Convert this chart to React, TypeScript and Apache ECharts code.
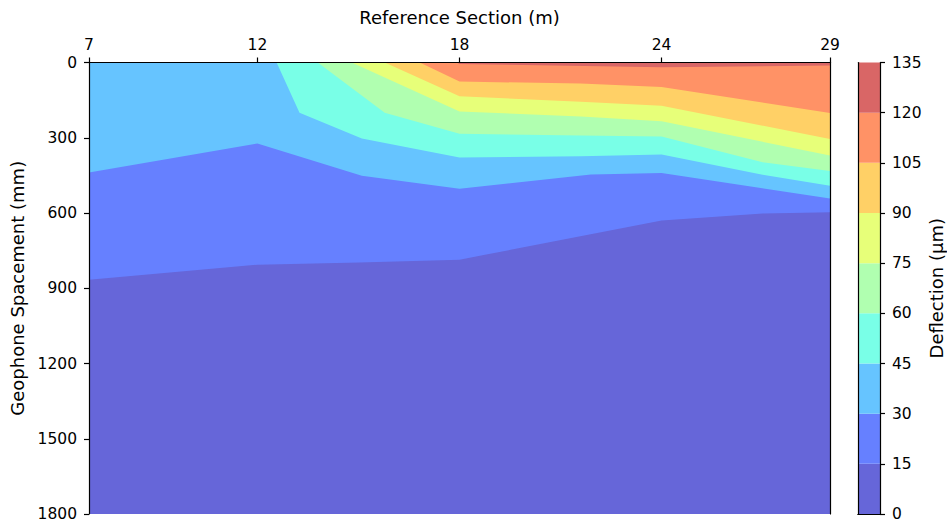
import React, { useEffect, useRef } from "react";
import * as echarts from "echarts";

// Axis ticks
const xTicks = [7, 12, 18, 24, 29];
const levels = [0, 15, 30, 45, 60, 75, 90, 105, 120, 135];
const bandColors = [
  "#6666d9",
  "#6680ff",
  "#66c4ff",
  "#79ffe7",
  "#b0ffb0",
  "#e7ff79",
  "#ffd066",
  "#ff9266",
  "#d96666",
];

// Contour boundaries: [section (m), geophone spacement (mm)] where deflection equals level
const contour0: number[][] = [[7, 1800], [29, 1800]];
const contour15: number[][] = [[7, 866], [12, 806], [15, 797], [18, 786], [24, 630], [27, 602], [29, 597]];
const contour30: number[][] = [[7, 439], [12, 323], [15.1, 451], [18, 503], [21.9, 447], [24, 441], [29, 542]];
const contour45: number[][] = [[12.57, 0], [13.25, 200], [15.1, 303], [18, 379], [21.6, 374], [24, 367], [27, 448], [29, 491]];
const contour60: number[][] = [[13.79, 0], [15.78, 200], [18, 284], [21.6, 291], [24, 295], [27, 398], [29, 433]];
const contour75: number[][] = [[14.8, 0], [18, 195], [21.6, 215], [24, 234], [29, 371]];
const contour90: number[][] = [[15.78, 0], [18, 135], [21.6, 156], [24, 172], [29, 305]];
const contour105: number[][] = [[16.82, 0], [18, 76], [21.6, 84], [24, 98], [29, 201]];
const contour120: number[][] = [[17.92, 0], [18, 6], [24, 19], [29, 12]];

const contours = [contour0, contour15, contour30, contour45, contour60, contour75, contour90, contour105, contour120];

const FONT = "DejaVu Sans";

export default function App() {
  const ref = useRef<HTMLDivElement>(null);
  useEffect(() => {
    if (!ref.current) return;
    const chart = echarts.init(ref.current, undefined, { renderer: "svg" });
    const axisLine = { show: true, lineStyle: { color: "#000", width: 1.2 } };
    const tickStyle = { show: true, length: 5, lineStyle: { color: "#000", width: 1.2 } };
    const plain = (v: number) => String(v);
    const labelStyle = { color: "#000", fontFamily: FONT, fontSize: 15.5, formatter: plain };
    const nameStyle = { color: "#000", fontFamily: FONT, fontSize: 18 };

    const contourSeries = contours.map((c, i) => ({
      type: "line",
      xAxisIndex: 0,
      yAxisIndex: 0,
      data: c,
      showSymbol: false,
      symbol: "none",
      silent: true,
      lineStyle: { width: 0, opacity: 0 },
      areaStyle: { origin: "start", color: bandColors[i], opacity: 1 },
      z: 2 + i * 0.01,
    }));

    const barSeries = bandColors.map((col, i) => ({
      type: "bar",
      xAxisIndex: 2,
      yAxisIndex: 2,
      stack: "cb",
      barWidth: "100%",
      silent: true,
      data: [levels[i + 1] - levels[i]],
      itemStyle: { color: col },
    }));

    chart.setOption({
      animation: false,
      backgroundColor: "#fff",
      grid: [
        { left: 89, right: 117, top: 62.5, bottom: 13, containLabel: false, outerBoundsMode: "none" },
        { left: 858, width: 22, top: 62.5, bottom: 13, containLabel: false, outerBoundsMode: "none" },
      ],
      xAxis: [
        {
          type: "value",
          gridIndex: 0,
          position: "top",
          min: 7,
          max: 29,
          z: 10,
          name: "Reference Section (m)",
          nameLocation: "middle",
          nameGap: 36,
          nameTextStyle: nameStyle,
          axisLine,
          axisTick: { ...tickStyle, customValues: xTicks },
          axisLabel: { ...labelStyle, margin: 10, customValues: xTicks },
          splitLine: { show: false },
        },
        {
          type: "value",
          gridIndex: 0,
          position: "bottom",
          min: 7,
          max: 29,
          z: 10,
          axisLine,
          axisTick: { show: false },
          axisLabel: { show: false },
          splitLine: { show: false },
        },
        {
          type: "category",
          gridIndex: 1,
          position: "bottom",
          data: [""],
          z: 10,
          axisLine,
          axisTick: { show: false },
          axisLabel: { show: false },
          splitLine: { show: false },
        },
        {
          type: "category",
          gridIndex: 1,
          position: "top",
          data: [""],
          z: 10,
          axisLine,
          axisTick: { show: false },
          axisLabel: { show: false },
          splitLine: { show: false },
        },
      ],
      yAxis: [
        {
          type: "value",
          gridIndex: 0,
          inverse: true,
          min: 0,
          max: 1800,
          interval: 300,
          z: 10,
          name: "Geophone Spacement (mm)",
          nameLocation: "middle",
          nameGap: 62,
          nameRotate: 90,
          nameTextStyle: nameStyle,
          axisLine,
          axisTick: tickStyle,
          axisLabel: { ...labelStyle, margin: 12 },
          splitLine: { show: false },
        },
        {
          type: "value",
          gridIndex: 0,
          position: "right",
          inverse: true,
          min: 0,
          max: 1800,
          z: 10,
          axisLine,
          axisTick: { show: false },
          axisLabel: { show: false },
          splitLine: { show: false },
        },
        {
          type: "value",
          gridIndex: 1,
          position: "right",
          min: 0,
          max: 135,
          interval: 15,
          z: 10,
          name: "Deflection (µm)",
          nameLocation: "middle",
          nameGap: 47,
          nameRotate: 90,
          nameTextStyle: nameStyle,
          axisLine,
          axisTick: tickStyle,
          axisLabel: { ...labelStyle, margin: 12 },
          splitLine: { show: false },
        },
        {
          type: "value",
          gridIndex: 1,
          position: "left",
          min: 0,
          max: 135,
          z: 10,
          axisLine,
          axisTick: { show: false },
          axisLabel: { show: false },
          splitLine: { show: false },
        },
      ],
      series: [...contourSeries, ...barSeries],
    });
    return () => chart.dispose();
  }, []);
  return <div ref={ref} style={{ width: 947, height: 527, position: "absolute", left: 0, top: 0 }} />;
}
